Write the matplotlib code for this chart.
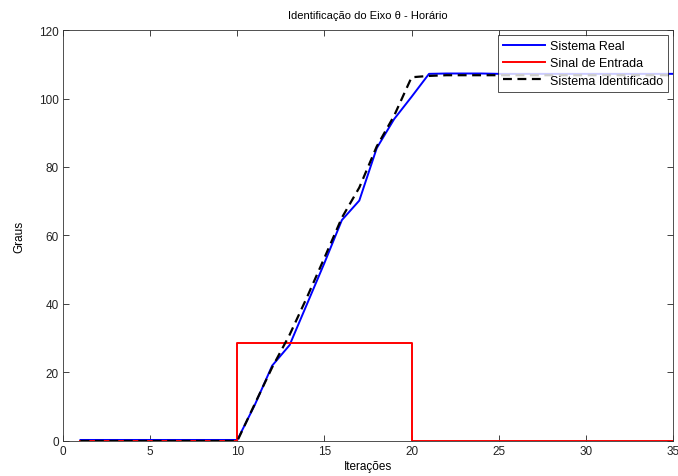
import matplotlib
matplotlib.use("Agg")
import matplotlib.pyplot as plt
import numpy as np

plt.rcParams['font.family'] = ['Liberation Sans', 'DejaVu Sans']

# iterations 1..35
it = np.arange(1, 36)

# Sistema Real (graus)
real = [0.3, 0.3, 0.3, 0.3, 0.3, 0.3, 0.3, 0.3, 0.3, 0.3,
        10.5, 22.0, 28.0, 40.0, 52.0, 64.5, 70.2, 85.5, 94.0, 100.5,
        107.2, 107.3, 107.3, 107.3, 107.2, 107.2, 107.2, 107.2, 107.2, 107.2,
        107.2, 107.2, 107.2, 107.2, 107.2]

# Sistema Identificado (graus)
ident = [0, 0, 0, 0, 0, 0, 0, 0, 0, 0,
         10.8, 21.5, 31.0, 42.0, 53.5, 65.2, 74.0, 86.0, 95.0, 106.2,
         106.6, 106.8, 106.8, 106.8, 106.8, 106.8, 106.8, 106.8, 106.8, 106.8,
         106.8, 106.8, 106.8, 106.8, 106.8]

# Sinal de Entrada: degrau de 10 a 20
entrada_x = [1, 10, 10, 20, 20, 35]
entrada_y = [0, 0, 28.5, 28.5, 0, 0]

fig = plt.figure(figsize=(6.78, 4.77), dpi=100)
ax = fig.add_axes([0.093, 0.0734, 0.8996, 0.8616])

ax.plot(it, real, color='#0000ff', lw=1.4, label='Sistema Real')
ax.plot(entrada_x, entrada_y, color='#ff0000', lw=1.4, label='Sinal de Entrada')
ax.plot(it, ident, color='black', lw=1.6, ls=(0, (4, 2.5)), label='Sistema Identificado')

ax.set_xlim(0, 35)
ax.set_ylim(0, 120)
ax.set_xticks(np.arange(0, 36, 5))
ax.set_yticks(np.arange(0, 121, 20))
ax.tick_params(direction='in', top=True, right=True, labelsize=8.5,
               length=4, width=0.6, colors='#222222', pad=3)
for s in ax.spines.values():
    s.set_linewidth(0.6)
    s.set_color('#333333')

ax.set_title('Identificação do Eixo θ - Horário', fontsize=8, pad=9)
ax.set_xlabel('Iterações', fontsize=8.5, labelpad=2)
ax.set_ylabel('Graus', fontsize=8.5, labelpad=10)

leg = ax.legend(loc='upper right', fontsize=9, frameon=True, fancybox=False,
                edgecolor='black', borderpad=0.4, labelspacing=0.42,
                handlelength=3.4, handletextpad=0.35, borderaxespad=0.4)
leg.get_frame().set_linewidth(0.6)

fig.savefig('out.png', dpi=100)
